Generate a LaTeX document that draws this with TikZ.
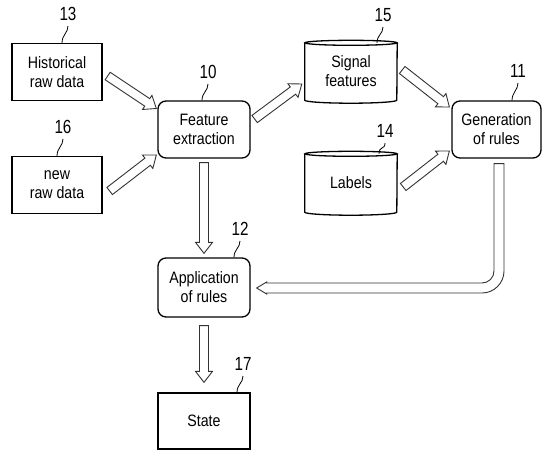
\documentclass[tikz,border=0pt]{standalone}
\usepackage{fontspec}
\setmainfont[FakeStretch=0.86]{Liberation Sans}
\newfontfamily\numfont[FakeStretch=0.8]{Liberation Sans}
\usetikzlibrary{calc}

% hollow block arrow between two named points
\newcommand\hollowarrow[2]{%
  \coordinate (hb) at ($(#2)!11pt!(#1)$);
  \draw[blockarrow] ($(#1)!4.5pt!90:(#2)$) -- ($(hb)!4.5pt!90:(#2)$)
    -- ($(hb)!8.5pt!90:(#2)$) -- (#2) -- ($(hb)!8.5pt!-90:(#2)$)
    -- ($(hb)!4.5pt!-90:(#2)$) -- ($(#1)!4.5pt!-90:(#2)$) -- cycle;}

\begin{document}
\begin{tikzpicture}[x=1pt,y=-1pt,
  every node/.style={font=\fontsize{16.5}{19}\selectfont, align=center, inner sep=0pt},
  plainbox/.style={draw, line width=1.3pt, minimum width=90pt, minimum height=57pt},
  roundbox/.style={draw, line width=1.3pt, rounded corners=8pt, minimum width=92pt, minimum height=57pt},
  cylbox/.style={minimum width=92pt, minimum height=57pt},
  cylline/.style={line width=1.3pt},
  blockarrow/.style={draw=black!80, line width=0.9pt, fill=white, line join=miter},
  refnum/.style={font=\numfont\fontsize{19}{19}\selectfont},
  leader/.style={line width=0.8pt}]
\useasboundingbox (0,0) rectangle (543,450);

% boxes
\node[plainbox] (hist) at (57,72) {Historical\\raw data};
\node[plainbox] (newraw) at (57,185) {new\\raw data};
\node[roundbox] (feat) at (204,129.5) {Feature\\extraction};
\node[cylbox] (sig) at (351,71.5) {Signal\\features};
\node[cylbox, minimum height=58pt] (lab) at (351,183) {Labels};
\node[roundbox, minimum width=89pt] (gen) at (496.5,129.5) {Generation\\of rules};
\node[roundbox, minimum height=59pt] (app) at (204,287.5) {Application\\of rules};
\node[plainbox, minimum width=92pt, minimum height=56pt] (state) at (204,421) {State};

% cylinders
\foreach \c in {sig,lab}{
  \draw[cylline] (\c.north west) -- (\c.south west)
    arc[start angle=180, end angle=360, x radius=46pt, y radius=3pt]
    -- (\c.north east);
  \draw[cylline] (\c.north) ellipse[x radius=46pt, y radius=2.5pt];
}

% reference numerals with leader lines
\foreach \n/\lx/\ly/\tgt in {13/68/14/hist, 16/63/127/newraw, 10/208/72/feat,
    15/383/15/sig, 14/385/131/lab, 11/518/71/gen, 12/240/229/app, 17/243/364/state}{
  \node[refnum] (r\n) at (\lx,\ly) {\n};
  \draw[leader] (\lx,\ly+12) .. controls (\lx,\ly+19)
    and ($(\lx-6,0 |- \tgt.north)+(0,-8)$) .. (\lx-6,0 |- \tgt.north);
}

% straight block arrows
\coordinate (a1s) at ($(hist.east)+(5,4)$);    \coordinate (a1e) at ($(feat.west)+(-1,-21)$);
\coordinate (a2s) at ($(newraw.east)+(7,6)$);  \coordinate (a2e) at ($(feat.west)+(-1,25.5)$);
\coordinate (a3s) at ($(feat.east)+(4,-10.5)$); \coordinate (a3e) at ($(sig.west)+(-3,12.5)$);
\coordinate (a4s) at ($(sig.east)+(5,-1.5)$);  \coordinate (a4e) at ($(gen.west)+(-2,-22.5)$);
\coordinate (a5s) at ($(lab.east)+(6,4)$);     \coordinate (a5e) at ($(gen.west)+(-2,21.5)$);
\coordinate (a6s) at ($(feat.south)+(0,4)$);   \coordinate (a6e) at ($(app.north)+(0,-4)$);
\coordinate (a7s) at ($(app.south)+(0,8)$);    \coordinate (a7e) at ($(state.north)+(0,-10)$);
\hollowarrow{a1s}{a1e}
\hollowarrow{a2s}{a2e}
\hollowarrow{a3s}{a3e}
\hollowarrow{a4s}{a4e}
\hollowarrow{a5s}{a5e}
\hollowarrow{a6s}{a6e}
\hollowarrow{a7s}{a7e}

% feedback arrow from rule generation to rule application
\coordinate (a8s) at ($(gen.south)+(2.5,5)$);
\coordinate (a8e) at ($(app.east)+(6,0.5)$);
\coordinate (a8c) at (a8s |- a8e);
\draw[blockarrow] ($(a8s)+(-5,0)$) -- ($(a8c)+(-5,-17)$)
  .. controls ($(a8c)+(-5,-10.4)$) and ($(a8c)+(-10.4,-5)$) .. ($(a8c)+(-17,-5)$)
  -- ($(a8e)+(10,-5)$) -- ($(a8e)+(10,-6)$) -- (a8e) -- ($(a8e)+(10,6)$) -- ($(a8e)+(10,5)$)
  -- ($(a8c)+(-17,5)$)
  .. controls ($(a8c)+(-4.9,5)$) and ($(a8c)+(5,-4.9)$) .. ($(a8c)+(5,-17)$)
  -- ($(a8s)+(5,0)$) -- cycle;
\end{tikzpicture}
\end{document}
